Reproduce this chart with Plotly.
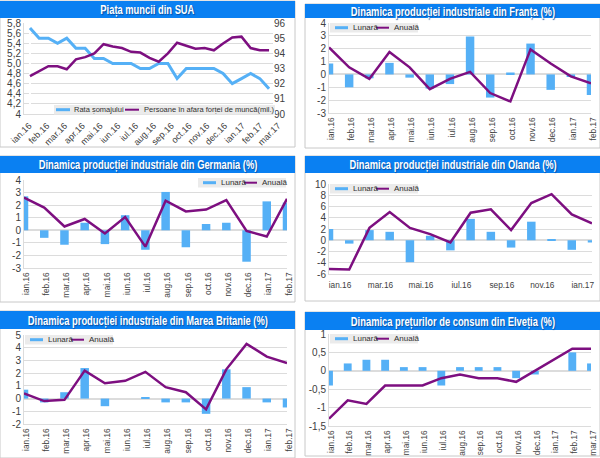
import plotly.graph_objects as go

months_15 = ["ian.16", "feb.16", "mar.16", "apr.16", "mai.16", "iun.16", "iul.16", "aug.16",
             "sep.16", "oct.16", "nov.16", "dec.16", "ian.17", "feb.17", "mar.17"]
months_14 = months_15[:14]
months_27 = list(range(27))

sua_somaj = [5.7, 5.5, 5.5, 5.4, 5.5, 5.3, 5.3, 5.1, 5.1, 5.0, 5.0, 5.0, 4.9, 4.9,
             5.0, 5.0, 4.7, 4.9, 4.9, 4.9, 4.9, 4.8, 4.6, 4.7, 4.8, 4.7, 4.5]
sua_persoane = [92.5, 92.85, 93.15, 93.15, 92.95, 93.6, 93.75, 94.0, 94.6, 94.45, 94.35, 94.1, 94.05, 93.7,
                93.45, 94.0, 94.7, 94.5, 94.3, 94.35, 94.2, 94.65, 95.05, 95.1, 94.35, 94.2, 94.2]

franta_luna = [0.85, -1.0, -0.3, 0.9, -0.25, -1.1, -0.75, 2.95, -1.8, 0.15, 2.4, -1.2, -0.2, -1.6]
franta_an = [2.1, 0.55, -0.35, 1.75, 0.55, -1.15, -0.35, 0.2, -1.45, -2.1, 1.95, 0.85, -0.15, -0.7]
germania_luna = [2.7, -0.6, -1.15, 0.6, -1.1, 1.2, -1.55, 3.05, -1.35, 0.5, 0.6, -2.5, 2.3, 2.2]
germania_an = [2.6, 1.8, 0.3, 0.9, -0.25, 1.05, -1.3, 2.35, 1.5, 1.65, 2.4, -0.05, -0.5, 2.5]
olanda_luna = [2.0, -0.6, 1.8, 1.5, -3.9, 0.8, -1.8, 3.8, 1.5, -1.3, 3.3, 0.2, -1.7, -0.4]
olanda_an = [-5.1, -5.2, 2.2, 5.0, 2.2, 1.1, -0.4, 4.9, 5.5, 1.8, 6.6, 8.2, 4.6, 3.0]
britania_luna = [0.7, -0.3, 0.5, 2.4, -0.6, 0, 0.1, -0.3, -0.3, -1.2, 2.3, 0.9, -0.3, -0.7]
britania_an = [0.4, -0.2, -0.1, 2.2, 1.2, 1.4, 2.1, 0.9, 0.5, -0.85, 2.3, 4.3, 3.3, 2.8]
elvetia_luna = [-0.4, 0.2, 0.3, 0.3, 0.1, 0.1, -0.4, 0.1, 0.1, 0.1, -0.2, -0.1, 0, 0.5, 0.2]
elvetia_an = [-1.3, -0.8, -0.9, -0.4, -0.4, -0.4, -0.2, -0.1, -0.2, -0.2, -0.3, 0, 0.3, 0.6, 0.6]

ticks_sua = [5.8, 5.6, 5.4, 5.2, 5.0, 4.8, 4.6, 4.4, 4.2, 4]
ticktext_sua = ["5,8", "5,6", "5,4", "5,2", "5,0", "4,8", "4,6", "4,4", "4,2", "4"]
ticks_sua2 = [96, 95, 94, 93, 92, 91, 90]
ticks_pct = [4, 3, 2, 1, 0, -1, -2, -3]
ticks_olanda = [10, 8, 6, 4, 2, 0, -2, -4, -6]
ticks_britania = [5, 4, 3, 2, 1, 0, -1, -2]
ticks_elvetia = [1, 0.5, 0, -0.5, -1, -1.5]
ticktext_elvetia = ["1", "0,5", "0", "-0,5", "-1", "-1,5"]

BLUE = "#55b0f6"
PURPLE = "#7d0f80"
GRID = "#dcdcdc"
TITLE_BG = "#0a80f2"
W, H = 600, 458


def xp(v):
    return v / W


def yp(v):
    return 1 - v / H


# pixel boxes: frame (x0,x1,y0,y1), title bar (y0,y1), plot (x0,x1,y0,y1), legend corner (x,y)
panels = [
    dict(title="Piața muncii din SUA", frame=(0, 295, 1, 147), bar=(1, 18), plot=(24, 273, 23, 114), leg=(54, 105)),
    dict(title="Dinamica producției industriale din Franța (%)", frame=(305, 600, 4, 148), bar=(4, 18),
         plot=(329, 591, 23, 113), leg=(330, 23)),
    dict(title="Dinamica producției industriale din Germania (%)", frame=(0, 295, 156, 302), bar=(156, 173),
         plot=(24, 287, 180, 268), leg=(198, 178)),
    dict(title="Dinamica producției industriale din Olanda (%)", frame=(305, 600, 156, 301), bar=(156, 173),
         plot=(329, 592, 184, 274), leg=(330, 184)),
    dict(title="Dinamica producției industriale din Marea Britanie (%)", frame=(0, 295, 311, 458), bar=(311, 329),
         plot=(24, 287, 335, 424), leg=(25, 335)),
    dict(title="Dinamica prețurilor de consum din Elveția (%)", frame=(305, 600, 312, 456), bar=(312, 330),
         plot=(329, 591, 334, 426), leg=(330, 334)),
]

series = [
    None,
    (months_14, franta_luna, franta_an, ticks_pct, [str(t) for t in ticks_pct], (-3, 4)),
    (months_14, germania_luna, germania_an, ticks_pct, [str(t) for t in ticks_pct], (-3, 4)),
    (months_14, olanda_luna, olanda_an, ticks_olanda, [str(t) for t in ticks_olanda], (-6, 10)),
    (months_14, britania_luna, britania_an, ticks_britania, [str(t) for t in ticks_britania], (-2, 5)),
    (months_15, elvetia_luna, elvetia_an, ticks_elvetia, ticktext_elvetia, (-1.5, 1)),
]

fig = go.Figure()
shapes = []
annotations = []
layout = dict(
    width=W, height=H, margin=dict(l=0, r=0, t=0, b=0, autoexpand=False), paper_bgcolor="white", plot_bgcolor="white",
    font=dict(family="Liberation Sans", size=9, color="#404040"), bargap=0.58, barmode="overlay",
    hovermode=False, showlegend=False,
)


def legend_box(x, y, width, items, size=8):
    # the native legend cannot get this small, so it is drawn by hand
    shapes.append(dict(type="rect", xref="paper", yref="paper", x0=xp(x), x1=xp(x + width), y0=yp(y + 9.5), y1=yp(y),
                       fillcolor="#ebebeb", line=dict(width=0), layer="above"))
    for label, color, lw, key0, key1, text0 in items:
        shapes.append(dict(type="line", xref="paper", yref="paper", x0=xp(x + key0), x1=xp(x + key1),
                           y0=yp(y + 4.7), y1=yp(y + 4.7), line=dict(color=color, width=lw), layer="above"))
        annotations.append(dict(text=label, xref="paper", yref="paper", showarrow=False, x=xp(x + text0),
                                y=yp(y + 4.7), xanchor="left", yanchor="middle",
                                font=dict(size=size, color="#303030")))


for i, p in enumerate(panels):
    n = i + 1
    fx0, fx1, fy0, fy1 = p["frame"]
    shapes.append(dict(type="rect", xref="paper", yref="paper", x0=xp(fx0), x1=xp(fx1), y0=yp(fy1), y1=yp(fy0),
                       line=dict(color="#c8c8c8", width=1), layer="below"))
    shapes.append(dict(type="rect", xref="paper", yref="paper", x0=xp(fx0), x1=xp(fx1), y0=yp(p["bar"][1]),
                       y1=yp(p["bar"][0]), fillcolor=TITLE_BG, line=dict(width=0), layer="below"))
    annotations.append(dict(text=p["title"], xref="paper", yref="paper", showarrow=False,
                            x=xp((fx0 + fx1) / 2), y=yp(sum(p["bar"]) / 2), xanchor="center", yanchor="middle",
                            font=dict(size=13, weight=700, color="white", shadow="1px 1px 1px #0a4fa0")))

    px0, px1, py0, py1 = p["plot"]
    xa = dict(domain=[xp(px0), xp(px1)], anchor="y%d" % n, showgrid=False, showline=True, linecolor=GRID,
              ticks="", tickfont=dict(size=8.3), tickangle=-90, ticklabelshift=2)
    ya = dict(domain=[yp(py1), yp(py0)], anchor="x%d" % n, gridcolor=GRID, gridwidth=1, showline=True,
              linecolor=GRID, zeroline=True, zerolinecolor=GRID, ticks="", tickfont=dict(size=10))

    if n == 1:
        x_range = [-0.65, 26.43]
        xa.update(tickmode="array", tickfont=dict(size=9), tickangle=-45, range=x_range, ticktext=months_15,
                  tickvals=[x_range[0] + k * (x_range[1] - x_range[0]) / 14 for k in range(15)],
                  ticklabelstandoff=2, ticklabelshift=5)
        ya.update(range=[4, 5.8], tickvals=ticks_sua, ticktext=ticktext_sua)
        layout["yaxis7"] = dict(domain=ya["domain"], anchor="x1", overlaying="y1", side="right", range=[90, 96],
                                tickvals=ticks_sua2, showgrid=False, showline=False, zeroline=False,
                                ticks="", tickfont=dict(size=10))
        fig.add_trace(go.Scatter(x=months_27, y=sua_somaj, mode="lines", name="Rata șomajului", xaxis="x1", yaxis="y1",
                                 line=dict(color=BLUE, width=3)))
        fig.add_trace(go.Scatter(x=months_27, y=sua_persoane, mode="lines", xaxis="x1", yaxis="y7",
                                 name="Persoane în afara forței de muncă(mil.)", line=dict(color=PURPLE, width=2.5)))
        legend_box(p["leg"][0], p["leg"][1], 221, [("Rata șomajului", BLUE, 3, 2, 16, 18),
                                                   ("Persoane în afara forței de muncă(mil.)", PURPLE, 2, 71, 85, 88)],
                   size=7.5)
    else:
        cats, luna, an, ticks, ticktext, yrange = series[i]
        xa.update(type="category", categoryorder="array", categoryarray=cats, range=[0, len(cats) - 1],
                  tickmode="array", tickvals=cats, ticktext=cats)
        ya.update(range=list(yrange), tickvals=ticks, ticktext=ticktext)
        if n == 4:
            # Olanda only labels every second month, horizontally
            xa.update(tickvals=cats[::2], ticktext=cats[::2], tickangle=0, ticklabelstandoff=3, ticklabelshift=11)
        fig.add_trace(go.Bar(x=cats, y=luna, name="Lunară", marker=dict(color=BLUE, line=dict(width=0)),
                             xaxis="x%d" % n, yaxis="y%d" % n))
        fig.add_trace(go.Scatter(x=cats, y=an, mode="lines", name="Anuală", xaxis="x%d" % n, yaxis="y%d" % n,
                                 line=dict(color=PURPLE, width=2.5)))
        legend_box(p["leg"][0], p["leg"][1], 88, [("Lunară", BLUE, 3, 5, 18, 21), ("Anuală", PURPLE, 2, 46, 59, 62)])
    layout["xaxis%d" % n] = xa
    layout["yaxis%d" % n] = ya

layout["shapes"] = shapes
layout["annotations"] = annotations
fig.update_layout(**layout)

# no narrow bold font is installed, so squeeze the title text around its centre
squeeze = """
document.body.style.margin = '0';
var k = 0.72;
document.querySelectorAll('.annotation-text').forEach(function (t) {
    if (t.style.fontWeight === '700') {
        var x = parseFloat(t.getAttribute('x')) || 0;
        t.setAttribute('transform', 'translate(' + (x * (1 - k)) + ',0) scale(' + k + ',1)');
    }
});
"""
fig.write_html("out.html", config=dict(displayModeBar=False), post_script=squeeze)
